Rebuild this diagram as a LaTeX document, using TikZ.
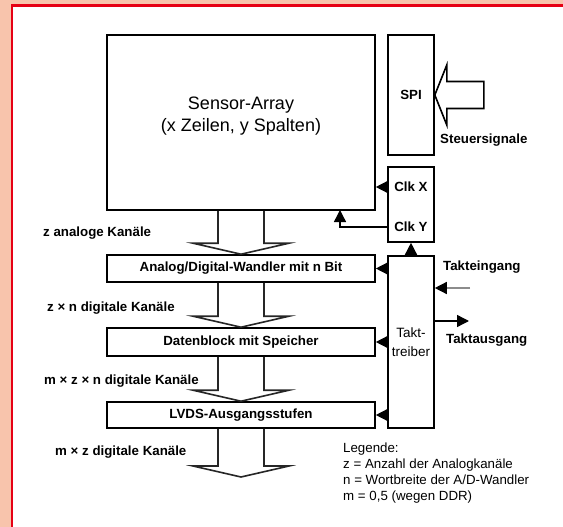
\documentclass[tikz,border=0pt]{standalone}
\usepackage{fontspec}
\setmainfont{Liberation Sans}
\usetikzlibrary{calc,arrows.meta}
\definecolor{salmon}{HTML}{F8C4AC}
\definecolor{framered}{HTML}{E60014}
\newcommand{\smallfont}{\fontsize{13.3}{16}\selectfont}

\begin{document}
\begin{tikzpicture}[x=1pt,y=-1pt,
  blk/.style={draw, line width=1.6pt, inner sep=0pt, font=\bfseries\smallfont},
  lbl/.style={anchor=west, inner sep=0pt, font=\bfseries\smallfont},
  shaft/.style={draw=black!85, line width=1.6pt, line join=miter},
  tri/.style={-{Triangle[length=12pt,width=12pt]}, line width=1.4pt}]
  \useasboundingbox (0,0) rectangle (563,527);

  % frame
  \fill[salmon] (0,0) rectangle (563,527);
  \fill[white] (13,7) rectangle (563,527);
  \draw[framered, line width=2.6pt] (12,527) -- (12,5.5) -- (563,5.5);

  % blocks
  \node[blk, minimum width=268pt, minimum height=175pt] (sensor) at (241,122.5) {};
  \node[align=center, font=\fontsize{18}{22}\selectfont] (sensortext) at (241,116)
    {Sensor-Array\\(x Zeilen, y Spalten)};
  \node[blk, minimum width=46pt, minimum height=120pt] (spi) at (411,95) {SPI};
  \node[blk, minimum width=46pt, minimum height=75pt] (clk) at (411,204.5) {};
  \node[font=\bfseries\smallfont] (clkx) at (411,187) {Clk X};
  \node[font=\bfseries\smallfont] (clky) at (411,227) {Clk Y};
  \node[blk, minimum width=46pt, minimum height=172pt, align=center,
    font=\fontsize{13.5}{19}\selectfont] (takt) at (411,342) {Takt-\\treiber};
  \node[blk, minimum width=268pt, minimum height=27pt] (adc) at (241,268.5)
    {Analog/Digital-Wandler mit n Bit};
  \node[blk, minimum width=268pt, minimum height=28pt] (daten) at (241,342)
    {Datenblock mit Speicher};
  \node[blk, minimum width=268pt, minimum height=26pt] (lvds) at (241,415)
    {LVDS-Ausgangsstufen};
  \coordinate (outend) at (241,477);

  % data flow
  \foreach \a/\b in {sensor.south/adc.north,adc.south/daten.north,
                     daten.south/lvds.north,lvds.south/outend}
    \draw[shaft] ($(\a)+(-23,0)$) -- ($(\b)+(-23,-11)$) -- ($(\b)+(-48,-11)$)
      -- (\b) -- ($(\b)+(48,-11)$) -- ($(\b)+(23,-11)$) -- ($(\a)+(23,0)$);

  % control signals
  \draw[shaft, draw=black] (spi.east) -- +(12,-30) -- +(12,-13.5) -- +(49,-13.5)
    -- +(49,13.5) -- +(12,13.5) -- +(12,30) -- cycle;

  % clocks
  \coordinate (yin) at (340,210);
  \draw[tri] (clk.west |- clkx) -- (sensor.east |- clkx);
  \draw[tri] (clk.west |- clky) -| (yin);
  \draw[tri] (takt.north) -- (clk.south);
  \foreach \b in {adc,daten,lvds}
    \draw[tri] (takt.west |- \b.east) -- (\b.east);
  \coordinate (tin) at (470,288);
  \coordinate (tout) at (469,321);
  \draw[-{Triangle[length=12pt,width=12pt,color=black]}, line width=1.4pt, draw=black!45]
    (tin) -- (takt.east |- tin);
  \draw[tri] (takt.east |- tout) -- (tout);

  % labels
  \node[lbl] (steuer) at (440,140) {Steuersignale};
  \node[lbl] (tein) at (443,267) {Takteingang};
  \node[lbl] (taus) at (446,340) {Taktausgang};
  \node[lbl] (kan1) at (43,233) {z analoge Kanäle};
  \node[lbl] (kan2) at (47,308) {z × n digitale Kanäle};
  \node[lbl] (kan3) at (44,381) {m × z × n digitale Kanäle};
  \node[lbl] (kan4) at (55,452) {m × z digitale Kanäle};
  \node[anchor=north west, align=left, inner sep=0pt, font=\smallfont] (legende)
    at (343,443) {Legende:\\z = Anzahl der Analogkanäle\\n = Wortbreite der A/D-Wandler\\m = 0,5 (wegen DDR)};
\end{tikzpicture}
\end{document}
